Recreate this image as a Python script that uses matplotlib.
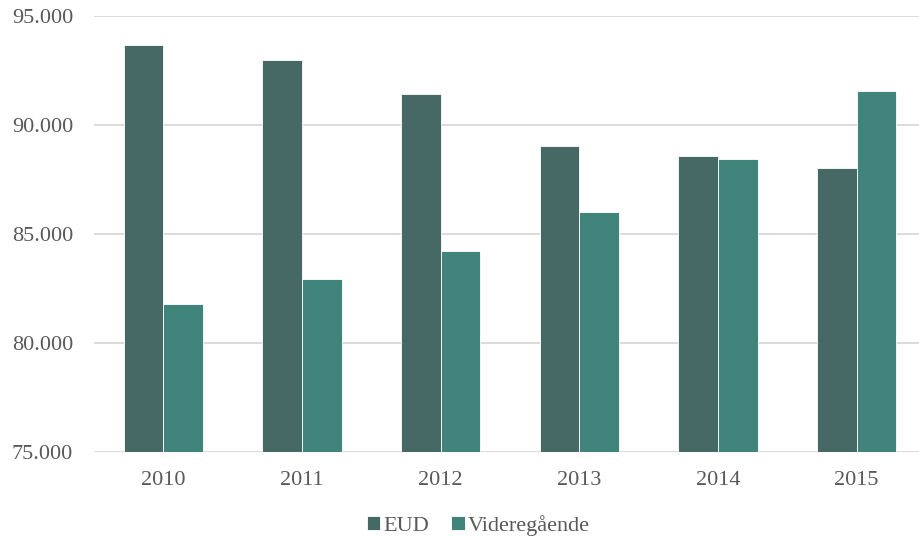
import numpy as np
from matplotlib import pyplot as plt
from matplotlib.ticker import FuncFormatter

years = ["2010", "2011", "2012", "2013", "2014", "2015"]
eud = [93670, 92980, 91420, 89040, 88590, 88030]
videregaaende = [81790, 82940, 84220, 86010, 88420, 91560]

colEud = "#466965"
colVid = "#41847b"
textCol = "#595959"
gridCol = "#d9d9d9"

plt.rcParams['font.family'] = ['Liberation Serif', 'DejaVu Serif']

fig = plt.figure(figsize=(9.2, 5.39), dpi=100)
ax = fig.add_axes([94/920, 87/539, (926-94)/920, (452-16)/539])

x = np.arange(len(years))
w = 0.285
ax.bar(x - w/2, eud, w, color=colEud, edgecolor="white", linewidth=0.6, label="EUD", zorder=3)
ax.bar(x + w/2, videregaaende, w, color=colVid, edgecolor="white", linewidth=0.6, label="Videregående", zorder=3)

ax.set_ylim(75000, 95000)
ax.set_xlim(-0.5, len(years) - 0.5)
ax.set_yticks(range(75000, 95001, 5000))
ax.yaxis.set_major_formatter(FuncFormatter(lambda v, p: f"{int(v):,}".replace(",", ".")))
ax.set_xticks(x)
ax.set_xticklabels(years)
ax.grid(axis="y", color=gridCol, linewidth=1.3, zorder=0)
for s in ax.spines.values():
    s.set_visible(False)
ax.tick_params(length=0, labelsize=16, colors=textCol)
ax.tick_params(axis="y", pad=15)
ax.tick_params(axis="x", pad=14)

leg = fig.legend(loc="lower center", bbox_to_anchor=(0.52, -0.032), ncol=2, frameon=False,
                 fontsize=16, handlelength=0.6, handleheight=0.6, handletextpad=0.15, columnspacing=1.0)
for t in leg.get_texts():
    t.set_color(textCol)

fig.savefig("out.png", dpi=100)
